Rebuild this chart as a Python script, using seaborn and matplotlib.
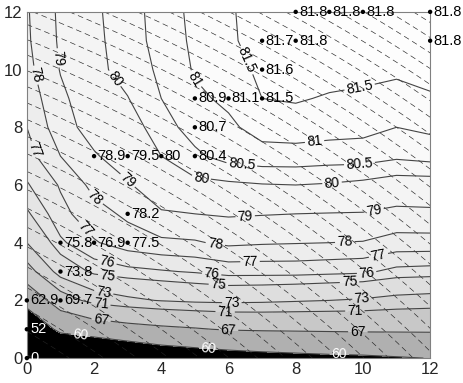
import numpy as np
import pandas as pd
import matplotlib
matplotlib.use("Agg")
import matplotlib.pyplot as plt
import seaborn as sns

# grid coordinates
x_vals = list(range(13))
y_vals = list(range(13))

# surface values, one list per y row (x = 0..12)
z_y0 = [0, 46.6, 47.8, 52.1, 54.9, 56.2, 57.2, 57.9, 58.4, 58.85, 59.1, 59.6, 60.1]
z_y1 = [52, 62, 64.5, 65.5, 66.2, 66.7, 67.3, 67.5, 67.6, 67.7, 67.8, 67.8, 67.8]
z_y2 = [62.9, 69.7, 71.8, 72.6, 73.1, 73.4, 73.5, 73.4, 73.2, 73.0, 72.8, 72.4, 72.2]
z_y3 = [70.0, 73.8, 75.3, 75.7, 75.9, 76.1, 76.4, 76.4, 76.4, 76.3, 76.2, 75.7, 75.6]
z_y4 = [73.0, 75.8, 76.9, 77.5, 77.8, 77.9, 78.2, 78.1, 78.05, 78.0, 77.95, 77.6, 77.6]
z_y5 = [74.8, 76.7, 77.6, 78.2, 78.9, 79.0, 79.1, 79.05, 79.0, 78.97, 78.95, 78.75, 78.8]
z_y6 = [75.9, 77.1, 78.3, 78.9, 79.6, 79.85, 79.9, 79.97, 80.0, 79.95, 79.85, 79.7, 79.7]
z_y7 = [76.6, 78.0, 78.9, 79.5, 80.0, 80.4, 80.7, 80.8, 80.8, 80.75, 80.75, 80.6, 80.7]
z_y8 = [77.0, 78.6, 79.4, 79.7, 80.3, 80.7, 80.9, 81.2, 81.25, 81.2, 81.15, 81.0, 81.1]
z_y9 = [77.4, 78.8, 79.6, 79.98, 80.5, 80.9, 81.1, 81.5, 81.55, 81.45, 81.4, 81.3, 81.45]
z_y10 = [77.7, 79.05, 79.85, 80.2, 80.6, 81.05, 81.3, 81.6, 81.7, 81.7, 81.65, 81.6, 81.65]
z_y11 = [77.85, 79.15, 79.88, 80.25, 80.7, 81.1, 81.42, 81.7, 81.8, 81.8, 81.8, 81.8, 81.8]
z_y12 = [77.9, 79.2, 79.9, 80.3, 80.7, 81.15, 81.43, 81.75, 81.8, 81.8, 81.8, 81.8, 81.8]

# contour levels
levels = [60, 67, 71, 73, 75, 76, 77, 78, 79, 80, 80.5, 81, 81.5]

# marked path through the grid
path_x = [0, 0, 0, 1, 1, 1, 2, 3, 3, 2, 3, 4, 5, 5, 5, 6, 7, 7, 7, 8, 8, 9, 10, 12, 12]
path_y = [0, 1, 2, 2, 3, 4, 4, 4, 5, 7, 7, 7, 7, 8, 9, 9, 9, 10, 11, 11, 12, 12, 12, 12, 11]

Z = np.array([z_y0, z_y1, z_y2, z_y3, z_y4, z_y5, z_y6, z_y7, z_y8, z_y9, z_y10, z_y11, z_y12])
X, Y = np.meshgrid(x_vals, y_vals)

sns.set_style("white")
plt.rcParams['font.family'] = ['Liberation Sans', 'DejaVu Sans']

fig = plt.figure(figsize=(4.63, 3.83), dpi=100)
ax = fig.add_axes([0.058, 0.065, 0.871, 0.904])

fill_levels = [0] + levels + [82]
greys = [0, 176, 200, 212, 222, 229, 233, 237, 241, 244, 247, 249, 251, 253]
fill_colors = [(g / 255, g / 255, g / 255) for g in greys]
ax.contourf(X, Y, Z, levels=fill_levels, colors=fill_colors)

# dashed guide curves (fine grid so they stay smooth)
gx, gy = np.meshgrid(np.linspace(0, 12, 121), np.linspace(0, 12, 121))
G = (gx + 20) ** 2 + 1.37 * (gy + 20) ** 2
ax.contour(gx, gy, G, levels=np.arange(955, 2430, 45), colors='#222222',
           linewidths=0.45, linestyles=[(0, (9, 6))])

cs = ax.contour(X, Y, Z, levels=levels, colors='#444444', linewidths=0.8)

label_pos = [(0.24, 9.8), (0.89, 10.4), (2.57, 9.65), (4.94, 9.6), (6.49, 10.3),
             (9.9, 9.4), (8.57, 7.4), (6.4, 6.77), (9.9, 6.7), (9.08, 6.08),
             (5.2, 6.35), (3.07, 6.24), (6.5, 4.85), (10.35, 5.03), (2.1, 5.66),
             (5.6, 3.9), (9.46, 4.03), (0.2, 7.2), (1.8, 4.55), (6.64, 3.4),
             (10.45, 3.64), (2.4, 3.4), (5.5, 2.94), (10.1, 3.05), (2.4, 2.8),
             (5.7, 2.55), (9.6, 2.7), (2.3, 2.36), (6.1, 1.95), (9.97, 2.12),
             (2.2, 1.84), (5.9, 1.6), (9.76, 1.67), (2.2, 1.25), (6.0, 0.9),
             (9.85, 0.9), (1.6, 0.8), (5.4, 0.35), (9.3, 0.17)]
texts = ax.clabel(cs, levels, manual=label_pos, fmt='%g', fontsize=10,
                  inline=True, inline_spacing=2, colors='k')
for t in texts:
    if t.get_text() == '60':
        t.set_color('white')

df = pd.DataFrame({'x': path_x, 'y': path_y})
df['z'] = [Z[j, i] for i, j in zip(path_x, path_y)]
sns.scatterplot(data=df, x='x', y='y', color='k', s=10, edgecolor='none',
                ax=ax, clip_on=False, zorder=5)
for _, r in df.iterrows():
    col = 'white' if r['z'] < 60 else 'black'
    ax.text(r['x'] + 0.1, r['y'], '%g' % r['z'], color=col, fontsize=10.5,
            va='center', ha='left', clip_on=False, zorder=6)

ax.set_xlim(0, 12)
ax.set_ylim(0, 12)
ax.set_xticks(range(0, 13, 2))
ax.set_yticks(range(0, 13, 2))
ax.set_xlabel('')
ax.set_ylabel('')
ax.tick_params(labelsize=12, length=0, pad=3)
for s in ax.spines.values():
    s.set_color('#808080')
    s.set_linewidth(0.8)

fig.savefig('out.png', dpi=100)
